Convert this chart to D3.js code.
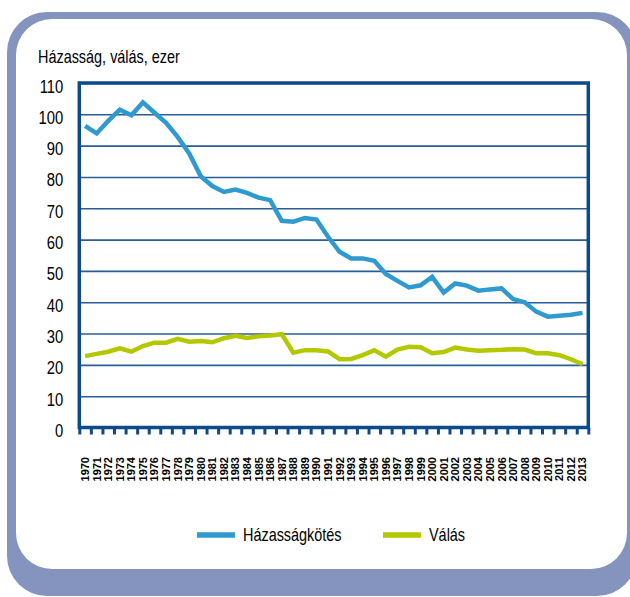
<!DOCTYPE html>
<html>
<head>
<meta charset="utf-8">
<script src="https://cdn.jsdelivr.net/npm/d3@7"></script>
<style>
  body { margin: 0; background: #fff; }
  text { font-family: 'Liberation Sans', Arial, sans-serif; fill: #000; }
</style>
</head>
<body>
<svg id="drawing_region"></svg>
<script>
const years = ['1970','1971','1972','1973','1974','1975','1976','1977','1978','1979',
               '1980','1981','1982','1983','1984','1985','1986','1987','1988','1989',
               '1990','1991','1992','1993','1994','1995','1996','1997','1998','1999',
               '2000','2001','2002','2003','2004','2005','2006','2007','2008','2009',
               '2010','2011','2012','2013'];

// ezer fő
const hazassag = [96.3, 93.9, 97.9, 101.5, 99.7, 103.8, 100.5, 97.3, 92.8, 87.5,
                  80.2, 77.1, 75.2, 76.0, 74.9, 73.4, 72.6, 66.0, 65.7, 66.9,
                  66.4, 60.9, 56.1, 54.0, 54.0, 53.2, 49.0, 46.8, 44.7, 45.4,
                  48.1, 43.1, 46.0, 45.3, 43.7, 44.1, 44.4, 41.0, 40.0, 37.0,
                  35.4, 35.7, 36.0, 36.6];

const valas = [22.8, 23.5, 24.2, 25.3, 24.2, 26.0, 27.1, 27.1, 28.3, 27.4,
               27.6, 27.2, 28.5, 29.3, 28.6, 29.1, 29.4, 29.8, 23.9, 24.7,
               24.7, 24.3, 21.8, 21.9, 23.1, 24.7, 22.6, 24.9, 25.8, 25.6,
               23.7, 24.1, 25.5, 24.9, 24.5, 24.7, 24.8, 25.0, 24.9, 23.7,
               23.7, 23.1, 21.8, 20.2];

const yticks = [0, 10, 20, 30, 40, 50, 60, 70, 80, 90, 100, 110];

const series = [
    { name: 'Házasságkötés', values: hazassag, color: '#2e9ad0' },
    { name: 'Válás', values: valas, color: '#b4c800' }
];

const config = {
    parent: '#drawing_region',
    width: 630,
    height: 597,
    margin: { top: 83, right: 41.7, bottom: 169.5, left: 79.3 }
};

// keskeny betű helyett vízszintesen összenyomott Liberation Sans
const squeeze = 0.78;

const svg = d3.select(config.parent)
    .attr('width', config.width)
    .attr('height', config.height);

// keret
svg.append('rect')
    .attr('x', 7).attr('y', 12)
    .attr('width', 630).attr('height', 584)
    .attr('rx', 40)
    .attr('fill', '#8494be');
svg.append('rect')
    .attr('x', 16).attr('y', 19)
    .attr('width', 611).attr('height', 550)
    .attr('rx', 36)
    .attr('fill', '#fff');

svg.append('text')
    .attr('transform', `translate(38, 63) scale(${squeeze}, 1)`)
    .attr('font-size', 18.5)
    .text('Házasság, válás, ezer');

const inner_width = config.width - config.margin.left - config.margin.right;
const inner_height = config.height - config.margin.top - config.margin.bottom;

const chart = svg.append('g')
    .attr('transform', `translate(${config.margin.left}, ${config.margin.top})`);

const xscale = d3.scaleBand()
    .domain(years)
    .range([0, inner_width]);

const xtick_scale = d3.scaleLinear()
    .domain([0, years.length])
    .range([0, inner_width]);

const yscale = d3.scaleLinear()
    .domain([0, 110])
    .range([inner_height, 0]);

// rácsvonalak
chart.append('g')
    .call(d3.axisLeft(yscale).tickValues(yticks).tickSize(-inner_width).tickFormat(''))
    .call(g => g.select('.domain').remove())
    .call(g => g.selectAll('line').attr('stroke', '#2a5c98').attr('stroke-width', 1.6));

// y tengely feliratok
chart.append('g')
    .attr('transform', 'translate(-16, 0)')
    .call(d3.axisLeft(yscale).tickValues(yticks).tickSize(0).tickFormat(d3.format('d')))
    .call(g => g.select('.domain').remove())
    .call(g => g.selectAll('text')
        .attr('font-size', 19)
        .attr('font-family', "'Liberation Sans', Arial, sans-serif")
        .attr('fill', '#000')
        .attr('dy', 9)
        .attr('x', 0)
        .attr('transform', `scale(${squeeze}, 1)`));

// x tengely osztások
chart.append('g')
    .attr('transform', `translate(0, ${inner_height})`)
    .call(d3.axisBottom(xtick_scale).tickValues(d3.range(years.length + 1)).tickSize(7).tickFormat(''))
    .call(g => g.select('.domain').remove())
    .call(g => g.selectAll('line').attr('stroke', '#0d4a8a').attr('stroke-width', 3));

// x tengely feliratok
chart.append('g')
    .attr('transform', `translate(0, ${inner_height})`)
    .call(d3.axisBottom(xscale).tickSize(0))
    .call(g => g.select('.domain').remove())
    .call(g => g.selectAll('text')
        .attr('font-size', 11)
        .attr('font-weight', 'bold')
        .attr('font-family', "'Liberation Sans', Arial, sans-serif")
        .attr('fill', '#000')
        .attr('text-anchor', 'end')
        .attr('transform', 'rotate(-90)')
        .attr('x', -29.5)
        .attr('y', 0)
        .attr('dy', '0.36em'));

// vonalak
const line = (values) => d3.line()
    .x((d, i) => xscale(years[i]) + xscale.bandwidth() / 2)
    .y(d => yscale(d))(values);

chart.selectAll('path.series')
    .data(series)
    .join('path')
    .attr('class', 'series')
    .attr('d', d => line(d.values))
    .attr('fill', 'none')
    .attr('stroke', d => d.color)
    .attr('stroke-width', 4.5);

// diagram keret
chart.append('rect')
    .attr('width', inner_width)
    .attr('height', inner_height)
    .attr('fill', 'none')
    .attr('stroke', '#0d4a8a')
    .attr('stroke-width', 3.5);

// jelmagyarázat
const legend_x = [197, 383];
const legend = svg.append('g')
    .selectAll('g')
    .data(series)
    .join('g')
    .attr('transform', (d, i) => `translate(${legend_x[i]}, 535)`);
legend.append('line')
    .attr('x1', 0).attr('x2', 38)
    .attr('stroke', d => d.color)
    .attr('stroke-width', 5.5);
legend.append('text')
    .attr('transform', `translate(46, 5.5) scale(${squeeze}, 1)`)
    .attr('font-size', 18.5)
    .text(d => d.name);
</script>
</body>
</html>
